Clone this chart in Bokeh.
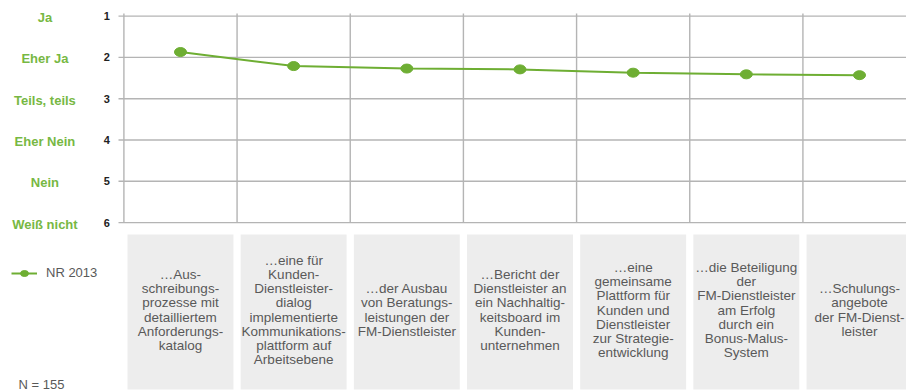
import numpy as np
from bokeh.plotting import figure
from bokeh.models import Range1d, Label, Legend, LegendItem
from bokeh.core.properties import value
from bokeh.embed import file_html
from bokeh.resources import INLINE

# ---------------- data ----------------
categories = [
    "…Aus-\nschreibungs-\nprozesse mit\ndetailliertem\nAnforderungs-\nkatalog",
    "…eine für\nKunden-\nDienstleister-\ndialog\nimplementierte\nKommunikations-\nplattform auf\nArbeitsebene",
    "…der Ausbau\nvon Beratungs-\nleistungen der\nFM-Dienstleister",
    "…Bericht der\nDienstleister an\nein Nachhaltig-\nkeitsboard im\nKunden-\nunternehmen",
    "…eine\ngemeinsame\nPlattform für\nKunden und\nDienstleister\nzur Strategie-\nentwicklung",
    "…die Beteiligung\nder\nFM-Dienstleister\nam Erfolg\ndurch ein\nBonus-Malus-\nSystem",
    "…Schulungs-\nangebote\nder FM-Dienst-\nleister",
]
nr_2013 = [1.87, 2.21, 2.27, 2.29, 2.37, 2.41, 2.43]
scale_values = [1, 2, 3, 4, 5, 6]
scale_ticks = ["1", "2", "3", "4", "5", "6"]
scale_labels = ["Ja", "Eher Ja", "Teils, teils", "Eher Nein", "Nein", "Weiß nicht"]
series_name = "NR 2013"
sample_note = "N = 155"

# ---------------- styles ----------------
GREEN = "#6eae33"
LABEL_GREEN = "#77b843"
GRID = "#b4b4b4"
TEXT_GREY = "#595959"
BOX = "#ededed"
FONT = "Liberation Sans"

n = len(categories)
xc = np.arange(n) + 0.5
bx = np.arange(n)

p = figure(width=906, height=391, output_backend="svg", toolbar_location=None,
           x_axis_location=None, y_axis_location=None,
           x_range=Range1d(-1.0904, 6.9153), y_range=Range1d(10.0896, 0.6223),
           min_border_left=0, min_border_right=0, min_border_top=0, min_border_bottom=0)
p.outline_line_color = None
p.xgrid.visible = False
p.ygrid.visible = False

# horizontal grid lines (with short outer tick)
p.segment(x0=-0.0477, y0=scale_values, x1=n, y1=scale_values,
          line_color=GRID, line_width=1.4)
# vertical grid lines + left axis line
p.segment(x0=bx, y0=scale_values[0] - 0.063, x1=bx, y1=scale_values[-1],
          line_color=GRID, line_width=1.4)

# tick numbers
p.text(x=0, y=scale_values, text=scale_ticks, x_offset=-14, text_align="right",
       text_baseline="middle", text_font=value(FONT), text_font_size="11px",
       text_font_style="bold", text_color="#222222")
# green scale labels
p.text(x=0, y=scale_values, text=scale_labels, x_offset=-79, y_offset=1.5,
       text_align="center", text_baseline="middle", text_font=value(FONT),
       text_font_size="13px", text_font_style="bold", text_color=LABEL_GREEN)

# category boxes and texts
p.rect(x=xc, y=8.165, width=0.936, height=3.753, fill_color=BOX, line_color=None)
p.text(x=xc, y=8.165, text=categories, y_offset=-2, text_align="center",
       text_baseline="middle", text_font=value(FONT), text_font_size="13.5px",
       text_color=TEXT_GREY, text_line_height=0.95)

# series
line = p.line(x=xc, y=nr_2013, line_color=GREEN, line_width=2)
dots = p.ellipse(x=xc, y=nr_2013, width=12, height=9, width_units="screen",
                 height_units="screen", fill_color=GREEN, line_color=GREEN)

# legend
legend = Legend(items=[LegendItem(label=series_name, renderers=[line, dots])],
                location=(11, 111), padding=0, border_line_color=None,
                background_fill_alpha=0, glyph_width=26, glyph_height=10,
                label_height=10, label_standoff=9, label_text_font=FONT,
                label_text_font_size="13px", label_text_color=TEXT_GREY)
p.add_layout(legend)

p.add_layout(Label(x=18, y=7, x_units="screen", y_units="screen", text=sample_note,
                   text_font=FONT, text_font_size="13px", text_color=TEXT_GREY,
                   text_baseline="middle"))

open("out.html", "w").write(file_html(p, INLINE))
